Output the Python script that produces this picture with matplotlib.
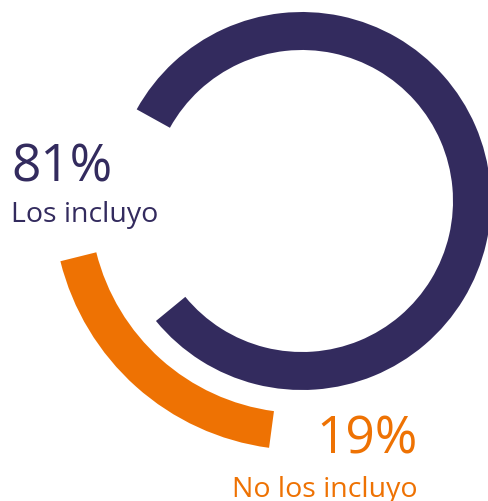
import matplotlib.pyplot as plt
from matplotlib.patches import Wedge

# data
labels = ["Los incluyo", "No los incluyo"]
values = [81, 19]
pct_labels = ["81%", "19%"]
colors = ["#332b5e", "#ee7203"]

W, H = 489, 502
fig = plt.figure(figsize=(W / 100, H / 100), dpi=100)
ax = fig.add_axes([0, 0, 1, 1])
ax.set_xlim(0, W)
ax.set_ylim(0, H)
ax.set_aspect("equal")
ax.axis("off")

# ring geometry (pixels, y up)
cx, cy = 302, 300
navy_r, navy_w = 189, 38
orange_r, orange_w = 249, 37

# navy arc runs clockwise from ~151 deg
navy_span = values[0] / 100 * 360
navy_start = 151
ax.add_patch(Wedge((cx, cy), navy_r, navy_start - navy_span, navy_start,
                   width=navy_w, color=colors[0], lw=0))

# orange arc on the outer track, clockwise from ~262 deg
orange_span = values[1] / 100 * 360
orange_start = 262.4
ax.add_patch(Wedge((cx, cy), orange_r, orange_start - orange_span, orange_start,
                   width=orange_w, color=colors[1], lw=0))

font = "Open Sans"
ax.text(11, H - 181, pct_labels[0], color=colors[0], fontsize=37,
        family=font, weight="medium", ha="left", va="baseline")
ax.text(11, H - 222, labels[0], color=colors[0], fontsize=20.5,
        family=font, weight="medium", ha="left", va="baseline")
ax.text(418, H - 454, pct_labels[1], color=colors[1], fontsize=37,
        family=font, weight="medium", ha="right", va="baseline")
ax.text(418, H - 497, labels[1], color=colors[1], fontsize=20.5,
        family=font, weight="medium", ha="right", va="baseline")

fig.savefig("out.png", dpi=100)
